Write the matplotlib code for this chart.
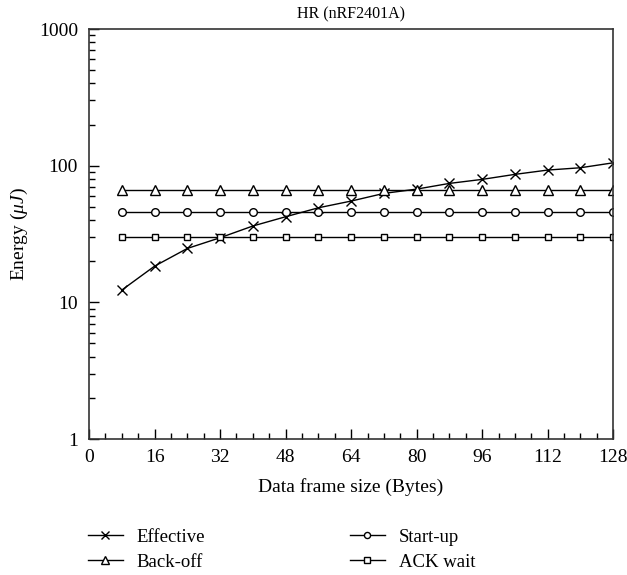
import matplotlib
matplotlib.use("Agg")
import matplotlib.pyplot as plt
from matplotlib.ticker import MultipleLocator, LogLocator, NullFormatter

plt.rcParams['font.family'] = ['Liberation Serif', 'DejaVu Serif']
plt.rcParams['mathtext.fontset'] = 'custom'
plt.rcParams['mathtext.it'] = 'Liberation Serif:italic'
plt.rcParams['mathtext.rm'] = 'Liberation Serif'

frame_size = [8, 16, 24, 32, 40, 48, 56, 64, 72, 80, 88, 96, 104, 112, 120, 128]
effective = [12.3, 18.4, 24.8, 29.7, 36.2, 42.3, 49.2, 55.1, 62.7, 67.4, 74.2, 79.4, 86.4, 92.9, 96.6, 105]
backoff = [66.3] * 16
startup = [45.8] * 16
ackwait = [30.2] * 16

fig = plt.figure(figsize=(6.27, 5.75), dpi=100)
ax = fig.add_axes([0.142, 0.2365, 0.836, 0.713])

kw = dict(color='black', lw=1.0, markeredgewidth=1.0)
ax.plot(frame_size, effective, marker='x', markersize=7, label='Effective', **kw)
ax.plot(frame_size, backoff, marker='^', markersize=7, markerfacecolor='white', label='Back-off', **kw)
ax.plot(frame_size, startup, marker='o', markersize=5.5, markerfacecolor='white', label='Start-up', **kw)
ax.plot(frame_size, ackwait, marker='s', markersize=5, markerfacecolor='white', label='ACK wait', **kw)

ax.set_yscale('log')
ax.set_ylim(1, 1000)
ax.set_xlim(0, 128)
ax.set_yticks([1, 10, 100, 1000])
ax.set_yticklabels(['1', '10', '100', '1000'])
ax.yaxis.set_minor_locator(LogLocator(base=10, subs=range(2, 10)))
ax.yaxis.set_minor_formatter(NullFormatter())
ax.xaxis.set_major_locator(MultipleLocator(16))
ax.xaxis.set_minor_locator(MultipleLocator(4))

ax.tick_params(which='both', direction='in', top=False, right=False, labelsize=14)
ax.tick_params(which='major', length=7, width=1)
ax.tick_params(which='minor', length=4, width=1)
ax.tick_params(axis='y', which='major', pad=8)
ax.tick_params(axis='x', which='major', pad=7)
for s in ax.spines.values():
    s.set_color('#333333')
    s.set_linewidth(1.2)

ax.set_title('HR (nRF2401A)', fontsize=11.5, pad=7.5)
ax.set_xlabel('Data frame size (Bytes)', fontsize=14, labelpad=9)
ax.set_ylabel(r'Energy ($\mu J$)', fontsize=14, labelpad=6)

handles, labels = ax.get_legend_handles_labels()
leg = fig.legend(handles, labels, loc='upper left', bbox_to_anchor=(0.128, 0.094), ncol=2,
                 frameon=False, fontsize=13.5, handlelength=1.87, columnspacing=7.7,
                 labelspacing=0.44, handletextpad=0.75, borderaxespad=0, markerscale=0.8)

fig.savefig('out.png', dpi=100)
